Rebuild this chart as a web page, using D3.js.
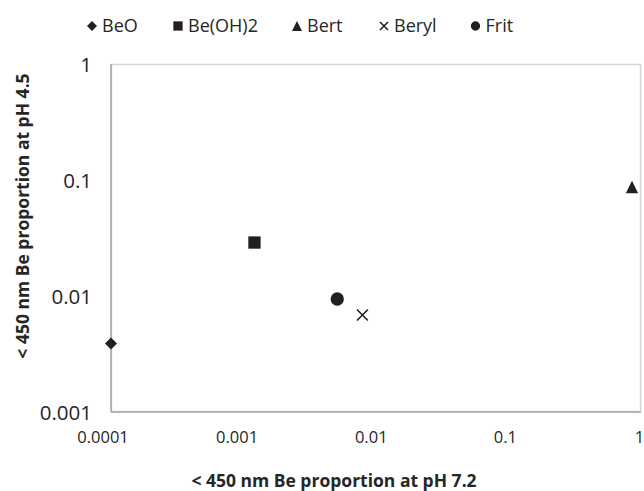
<!DOCTYPE html>
<html>
<head>
<meta charset="utf-8">
<script src="https://cdn.jsdelivr.net/npm/d3@7"></script>
<style>
  html, body { margin: 0; padding: 0; background: #fff; }
  svg { display: block; font-family: "Open Sans", sans-serif; }
</style>
</head>
<body>
<svg id="chart" width="644" height="491"></svg>
<script>
// Materials and their sub-450 nm beryllium proportions at two pH values
const materials = ["BeO", "Be(OH)2", "Bert", "Beryl", "Frit"];
const symbolTypes = ["diamond", "square", "triangle", "cross", "circle"];
const proportionPH72 = [0.0001, 0.00121, 0.855, 0.0079, 0.0051];
const proportionPH45 = [0.0039, 0.0289, 0.087, 0.00686, 0.00942];

const xTickValues = [0.0001, 0.001, 0.01, 0.1, 1];
const yTickValues = [0.001, 0.01, 0.1, 1];
const xTickLabels = ["0.0001", "0.001", "0.01", "0.1", "1"];
const yTickLabels = ["0.001", "0.01", "0.1", "1"];

const xTitle = "< 450 nm Be proportion at pH 7.2";
const yTitle = "< 450 nm Be proportion at pH 4.5";

const ink = "#231f20";
const svg = d3.select("#chart");

const plot = { left: 111, right: 641, top: 64, bottom: 412 };

const x = d3.scaleLog().domain([0.0001, 1]).range([plot.left, plot.right]);
const y = d3.scaleLog().domain([0.001, 1]).range([plot.bottom, plot.top]);
// tick labels sit on a slightly narrower span than the plot frame
const xLabelPos = x.copy().range([plot.left - 8.5, plot.right - 2]);

// marker outlines, s = nominal width
function symbolPath(type, s) {
  const h = s / 2;
  switch (type) {
    case "diamond":
      return `M0,${-h}L${h},0L0,${h}L${-h},0Z`;
    case "square":
      return `M${-h},${-h}H${h}V${h}H${-h}Z`;
    case "triangle":
      return `M0,${-h * 1.02}L${h},${h * 1.02}L${-h},${h * 1.02}Z`;
    case "cross":
      return `M${-h},${-h}L${h},${h}M${h},${-h}L${-h},${h}`;
    case "circle":
      return d3.symbol(d3.symbolCircle, Math.PI * h * h)();
  }
}

function drawSymbol(g, type, s) {
  const p = g.append("path").attr("d", symbolPath(type, s));
  if (type === "cross") {
    p.attr("fill", "none").attr("stroke", ink).attr("stroke-width", 1.6);
  } else {
    p.attr("fill", ink);
  }
}

// plot frame
svg.append("rect")
  .attr("x", plot.left + 0.5).attr("y", plot.top + 0.5)
  .attr("width", plot.right - plot.left - 1).attr("height", plot.bottom - plot.top - 1)
  .attr("fill", "none").attr("stroke", "#d4d4d4").attr("stroke-width", 1.5);

// x axis
const xAxis = d3.axisBottom(xLabelPos)
  .tickValues(xTickValues)
  .tickFormat((d, i) => xTickLabels[i])
  .tickSize(0).tickPadding(0);
const gx = svg.append("g").attr("transform", `translate(0,${plot.bottom})`).call(xAxis);
gx.select(".domain").remove();
gx.selectAll("text")
  .attr("y", 0).attr("dy", "31px")
  .attr("font-size", "16.5px").attr("fill", "#262626")
  .attr("font-family", "Open Sans, sans-serif");

svg.append("line")
  .attr("x1", plot.left).attr("x2", plot.right)
  .attr("y1", plot.bottom).attr("y2", plot.bottom)
  .attr("stroke", "#a6a6a6").attr("stroke-width", 1.5);

// y axis
const yAxis = d3.axisLeft(y)
  .tickValues(yTickValues)
  .tickFormat((d, i) => yTickLabels[i])
  .tickSize(0).tickPadding(0);
const gy = svg.append("g").attr("transform", `translate(${plot.left},0)`).call(yAxis);
gy.select(".domain").remove();
gy.selectAll("text")
  .attr("x", -19).attr("dy", "0.36em")
  .attr("font-size", "20.5px").attr("fill", "#262626")
  .attr("font-family", "Open Sans, sans-serif");

svg.append("line")
  .attr("x1", plot.left).attr("x2", plot.left)
  .attr("y1", plot.top).attr("y2", plot.bottom)
  .attr("stroke", "#a6a6a6").attr("stroke-width", 1.5);

// axis titles
svg.append("text")
  .attr("x", 334).attr("y", 487)
  .attr("text-anchor", "middle")
  .attr("font-weight", "bold").attr("font-size", "17.5px").attr("fill", "#262626")
  .text(xTitle);

svg.append("text")
  .attr("transform", "translate(29,216) rotate(-90)")
  .attr("text-anchor", "middle")
  .attr("font-weight", "bold").attr("font-size", "17.5px").attr("fill", "#262626")
  .text(yTitle);

// data points
const points = materials.map((m, i) => ({
  name: m, type: symbolTypes[i], px: proportionPH72[i], py: proportionPH45[i]
}));
const sizes = { diamond: 12, square: 12.3, triangle: 12.3, cross: 11, circle: 13.3 };

svg.append("g").selectAll("g")
  .data(points)
  .join("g")
  .attr("transform", d => `translate(${x(d.px)},${y(d.py)})`)
  .each(function (d) { drawSymbol(d3.select(this), d.type, sizes[d.type]); });

// legend
const legendMarkerX = [92, 178, 297, 384, 475.5];
const legendSizes = { diamond: 10, square: 9.3, triangle: 10, cross: 8, circle: 9.3 };
const legend = svg.append("g").attr("transform", "translate(0,26)");
materials.forEach((m, i) => {
  const item = legend.append("g").attr("transform", `translate(${legendMarkerX[i]},0)`);
  drawSymbol(item, symbolTypes[i], legendSizes[symbolTypes[i]]);
  item.append("text")
    .attr("x", 10).attr("dy", "0.36em")
    .attr("font-size", "18px").attr("fill", "#262626")
    .text(m);
});
</script>
</body>
</html>
